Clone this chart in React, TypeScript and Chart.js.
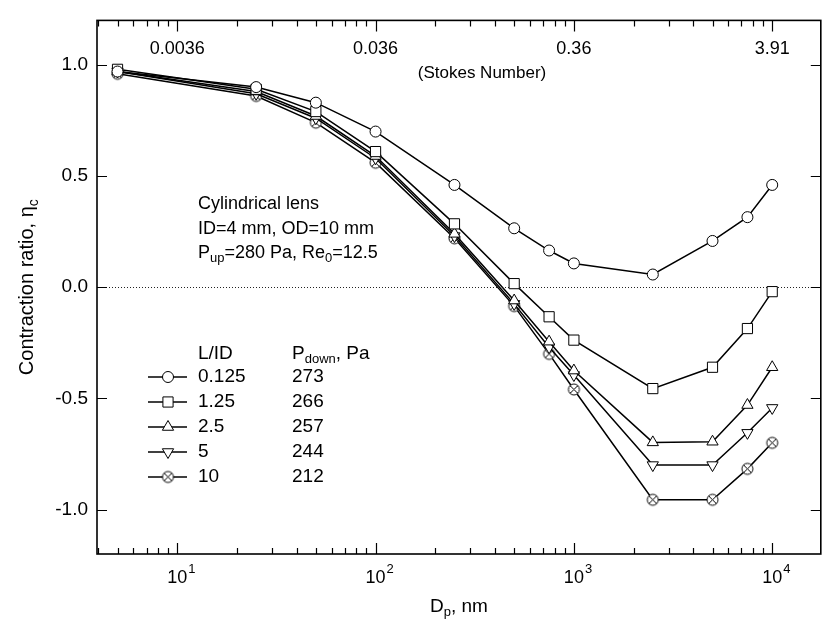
import React, { useEffect, useRef } from 'react';
import { Chart, registerables } from 'chart.js';
import { drawPoint } from 'chart.js/helpers';

Chart.register(...registerables);

// ---- data ----
const diameters = [5, 25, 50, 100, 250, 500, 750, 1000, 2500, 5000, 7500, 10000];
const lengthRatios = ['0.125', '1.25', '2.5', '5', '10'];
const downstreamPressures = ['273', '266', '257', '244', '212'];
const eta0125 = [0.97, 0.90, 0.83, 0.70, 0.46, 0.265, 0.165, 0.107, 0.057, 0.208, 0.315, 0.46];
const eta125 = [0.98, 0.89, 0.79, 0.61, 0.285, 0.016, -0.133, -0.238, -0.456, -0.36, -0.186, -0.02];
const eta25 = [0.97, 0.88, 0.77, 0.59, 0.24, -0.06, -0.245, -0.375, -0.698, -0.695, -0.53, -0.36];
const eta5 = [0.97, 0.87, 0.76, 0.58, 0.23, -0.075, -0.27, -0.395, -0.80, -0.80, -0.655, -0.543];
const eta10 = [0.96, 0.86, 0.74, 0.56, 0.22, -0.085, -0.30, -0.46, -0.956, -0.956, -0.817, -0.70];
const stokesLabels = ['0.0036', '0.036', '0.36', '3.91'];
const stokesAt = [10, 100, 1000, 10000];
const xDecades = [10, 100, 1000, 10000];
const xDecadeExponents = ['1', '2', '3', '4'];
const yTicks = [-1.0, -0.5, 0.0, 0.5, 1.0];
const X_MIN = 3.94;
const X_MAX = 17580;
const Y_MIN = -1.2;
const Y_MAX = 1.2;

const FONT = '"Liberation Sans", Arial, Helvetica, sans-serif';

function makeCircleX(): HTMLCanvasElement {
  const c = document.createElement('canvas');
  c.width = 15;
  c.height = 15;
  const g = c.getContext('2d')!;
  g.fillStyle = '#fff';
  g.strokeStyle = '#000';
  g.lineWidth = 1;
  g.beginPath();
  g.arc(7.5, 7.5, 5.5, 0, Math.PI * 2);
  g.fill();
  g.stroke();
  const d = 5.5 * Math.SQRT1_2;
  g.beginPath();
  g.moveTo(7.5 - d, 7.5 - d);
  g.lineTo(7.5 + d, 7.5 + d);
  g.moveTo(7.5 + d, 7.5 - d);
  g.lineTo(7.5 - d, 7.5 + d);
  g.stroke();
  return c;
}

export default function App() {
  const ref = useRef<HTMLCanvasElement | null>(null);

  useEffect(() => {
    if (!ref.current) return;
    const circleX = makeCircleX();
    const seriesValues = [eta0125, eta125, eta25, eta5, eta10];
    const styles: any[] = [
      { pointStyle: 'circle', radius: 5.5, rotation: 0 },
      { pointStyle: 'rect', radius: 7.2, rotation: 0 },
      { pointStyle: 'triangle', radius: 6.5, rotation: 0 },
      { pointStyle: 'triangle', radius: 6.5, rotation: 180 },
      { pointStyle: circleX, radius: 5.5, rotation: 0 },
    ];

    const datasets = seriesValues.map((vals, i) => ({
      label: lengthRatios[i],
      data: diameters.map((d, j) => ({ x: d, y: vals[j] })),
      borderColor: '#000',
      backgroundColor: '#fff',
      borderWidth: 1.5,
      pointStyle: styles[i].pointStyle,
      pointRadius: styles[i].radius,
      pointRotation: styles[i].rotation,
      pointBorderWidth: 1,
      pointBorderColor: '#000',
      pointBackgroundColor: '#fff',
      tension: 0,
      fill: false,
    }));

    const decorations = {
      id: 'decorations',
      beforeDatasetsDraw(chart: any) {
        const { ctx, chartArea } = chart;
        const ys = chart.scales.y;
        const y0 = Math.round(ys.getPixelForValue(0)) + 0.5;
        ctx.save();
        ctx.strokeStyle = '#222';
        ctx.lineWidth = 1;
        ctx.setLineDash([1, 2]);
        ctx.beginPath();
        ctx.moveTo(chartArea.left, y0);
        ctx.lineTo(chartArea.right, y0);
        ctx.stroke();
        ctx.restore();
      },
      afterDraw(chart: any) {
        const { ctx, chartArea } = chart;
        const { left, right, top, bottom } = chartArea;
        const xs = chart.scales.x;
        const ys = chart.scales.y;
        ctx.save();
        ctx.strokeStyle = '#000';
        ctx.lineWidth = 1.6;
        ctx.strokeRect(left, top, right - left, bottom - top);

        // x ticks (bottom & top), inward
        ctx.lineWidth = 1.2;
        ctx.beginPath();
        for (let e = 0; e <= 4; e++) {
          for (let m = 1; m <= 9; m++) {
            const v = m * Math.pow(10, e);
            if (v < X_MIN || v > X_MAX) continue;
            const px = Math.round(xs.getPixelForValue(v)) + 0.5;
            const len = m === 1 ? 11 : 6;
            ctx.moveTo(px, bottom);
            ctx.lineTo(px, bottom - len);
            ctx.moveTo(px, top);
            ctx.lineTo(px, top + len);
          }
        }
        // y ticks left & right, inward
        yTicks.forEach((v) => {
          const py = Math.round(ys.getPixelForValue(v)) + 0.5;
          ctx.moveTo(left, py);
          ctx.lineTo(left + 10, py);
          ctx.moveTo(right, py);
          ctx.lineTo(right - 10, py);
        });
        ctx.stroke();

        ctx.fillStyle = '#000';
        // bottom decade labels with superscripts
        xDecades.forEach((v, i) => {
          const px = xs.getPixelForValue(v);
          ctx.font = `18px ${FONT}`;
          const w1 = ctx.measureText('10').width;
          const x0 = px - w1 / 2;
          ctx.textAlign = 'left';
          ctx.textBaseline = 'alphabetic';
          ctx.fillText('10', x0, bottom + 29);
          ctx.font = `13px ${FONT}`;
          ctx.fillText(xDecadeExponents[i], x0 + w1 + 1, bottom + 19);
        });

        // x title  D_p, nm
        {
          ctx.textBaseline = 'alphabetic';
          ctx.textAlign = 'left';
          ctx.font = `19px ${FONT}`;
          const wD = ctx.measureText('D').width;
          const wRest = ctx.measureText(', nm').width;
          ctx.font = `13px ${FONT}`;
          const wp = ctx.measureText('p').width;
          const total = wD + wp + wRest;
          const cx = (left + right) / 2;
          let x = cx - total / 2;
          const base = bottom + 58;
          ctx.font = `19px ${FONT}`;
          ctx.fillText('D', x, base);
          x += wD;
          ctx.font = `13px ${FONT}`;
          ctx.fillText('p', x, base + 4);
          x += wp;
          ctx.font = `19px ${FONT}`;
          ctx.fillText(', nm', x, base);
        }

        // y title rotated: Contraction ratio, η_c
        {
          ctx.save();
          ctx.translate(33, (top + bottom) / 2);
          ctx.rotate(-Math.PI / 2);
          ctx.textBaseline = 'alphabetic';
          ctx.textAlign = 'left';
          ctx.font = `20px ${FONT}`;
          const main = 'Contraction ratio, η';
          const wm = ctx.measureText(main).width;
          ctx.font = `14px ${FONT}`;
          const ws = ctx.measureText('c').width;
          const x = -(wm + ws) / 2;
          ctx.font = `20px ${FONT}`;
          ctx.fillText(main, x, 0);
          ctx.font = `14px ${FONT}`;
          ctx.fillText('c', x + wm, 5);
          ctx.restore();
        }

        // top Stokes number labels
        ctx.font = `18px ${FONT}`;
        ctx.textAlign = 'center';
        ctx.textBaseline = 'middle';
        stokesAt.forEach((v, i) => {
          ctx.fillText(stokesLabels[i], xs.getPixelForValue(v), top + 29);
        });
        ctx.font = `17px ${FONT}`;
        ctx.fillText('(Stokes Number)', 482, top + 53);

        // annotation block
        ctx.textAlign = 'left';
        ctx.textBaseline = 'alphabetic';
        const ax = 198;
        ctx.font = `18px ${FONT}`;
        ctx.fillText('Cylindrical lens', ax, 209);
        ctx.fillText('ID=4 mm, OD=10 mm', ax, 234);
        {
          let x = ax;
          const base = 258;
          ctx.font = `18px ${FONT}`;
          ctx.fillText('P', x, base);
          x += ctx.measureText('P').width;
          ctx.font = `13px ${FONT}`;
          ctx.fillText('up', x, base + 4);
          x += ctx.measureText('up').width;
          ctx.font = `18px ${FONT}`;
          ctx.fillText('=280 Pa, Re', x, base);
          x += ctx.measureText('=280 Pa, Re').width;
          ctx.font = `13px ${FONT}`;
          ctx.fillText('0', x, base + 4);
          x += ctx.measureText('0').width;
          ctx.font = `18px ${FONT}`;
          ctx.fillText('=12.5', x, base);
        }

        // legend
        const lx0 = 148, lx1 = 187, lmx = 168;
        const labX = 198, pX = 292;
        const headY = 359;
        ctx.font = `19px ${FONT}`;
        ctx.fillText('L/ID', labX, headY);
        {
          let x = pX;
          ctx.fillText('P', x, headY);
          x += ctx.measureText('P').width;
          ctx.font = `13px ${FONT}`;
          ctx.fillText('down', x, headY + 4);
          x += ctx.measureText('down').width;
          ctx.font = `19px ${FONT}`;
          ctx.fillText(', Pa', x, headY);
        }
        lengthRatios.forEach((lab, i) => {
          const cy = 377 + i * 25;
          ctx.strokeStyle = '#000';
          ctx.lineWidth = 1.5;
          ctx.beginPath();
          ctx.moveTo(lx0, cy);
          ctx.lineTo(lx1, cy);
          ctx.stroke();
          ctx.fillStyle = '#fff';
          ctx.strokeStyle = '#000';
          ctx.lineWidth = 1;
          drawPoint(ctx, {
            pointStyle: styles[i].pointStyle,
            rotation: styles[i].rotation,
            radius: styles[i].radius,
            borderWidth: 1,
          } as any, lmx, cy);
          ctx.fillStyle = '#000';
          ctx.font = `19px ${FONT}`;
          ctx.textBaseline = 'middle';
          ctx.fillText(lab, labX, cy);
          ctx.fillText(downstreamPressures[i], pX, cy);
          ctx.textBaseline = 'alphabetic';
        });

        ctx.restore();
      },
    };

    const chart = new Chart(ref.current, {
      type: 'line',
      data: { datasets },
      options: {
        animation: false,
        responsive: false,
        maintainAspectRatio: false,
        layout: { padding: { top: 12, right: 2, left: 0, bottom: 0 } },
        plugins: {
          legend: { display: false },
          tooltip: { enabled: false },
        },
        scales: {
          x: {
            type: 'logarithmic',
            min: X_MIN,
            max: X_MAX,
            grid: { display: false, drawTicks: false },
            border: { display: false },
            ticks: { display: false },
            afterFit: (s: any) => { s.height = 71; },
          },
          y: {
            type: 'linear',
            min: Y_MIN,
            max: Y_MAX,
            grid: { display: false, drawTicks: false },
            border: { display: false },
            afterBuildTicks: (s: any) => { s.ticks = yTicks.map((v) => ({ value: v })); },
            afterFit: (s: any) => { s.width = 97; },
            ticks: {
              color: '#000',
              padding: 9,
              font: { family: FONT, size: 19 },
              callback: (v: any) => Number(v).toFixed(1),
            },
          },
        },
      },
      plugins: [decorations],
    });
    return () => chart.destroy();
  }, []);

  return (
    <div style={{ position: 'fixed', left: 0, top: 0, width: 829, height: 625, background: '#fff' }}>
      <canvas ref={ref} width={829} height={625} style={{ display: 'block', width: 829, height: 625 }} />
    </div>
  );
}
